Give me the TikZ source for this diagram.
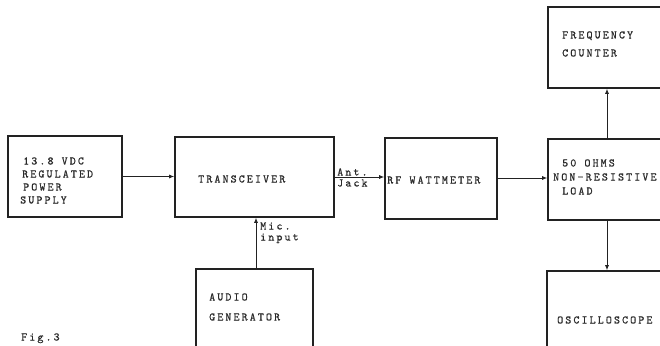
\documentclass[tikz,border=0pt]{standalone}
\usepackage{fontspec}
\usetikzlibrary{arrows.meta}
\definecolor{ink}{HTML}{222222}
\definecolor{txt}{HTML}{2A2A2A}
\newfontfamily\twfam[LetterSpace=18,FakeBold=0.6]{lmmono10-regular.otf}
\newcommand{\twfont}{\twfam\fontsize{11.5}{12}\selectfont}
\tikzset{
  blk/.style={draw=ink, line width=1.6pt, rectangle, inner sep=0pt},
  lbl/.style={anchor=west, inner sep=0pt, text height=7pt, text depth=0pt,
    font=\twfont, text=txt},
  conn/.style={draw=ink, line width=0.8pt, -{Latex[length=5pt,width=4pt]}}
}
\begin{document}
\begin{tikzpicture}[x=1pt,y=-1pt]
\useasboundingbox (0,0) rectangle (660,345);
\clip (0,0) rectangle (660,345);
% boxes
\node[blk, minimum width=114pt, minimum height=81pt] (ps) at (65,176.5) {};
\node[blk, minimum width=159pt, minimum height=80pt] (tr) at (254.5,177) {};
\node[blk, minimum width=112pt, minimum height=81pt] (rf) at (441,178.5) {};
\node[blk, minimum width=132pt, minimum height=81pt] (load) at (614,179.5) {};
\node[blk, minimum width=132pt, minimum height=81pt] (fc) at (614,47.5) {};
\node[blk, minimum width=117pt, minimum height=91pt] (ag) at (254.5,314.5) {};
\node[blk, minimum width=133pt, minimum height=89pt] (osc) at (613.5,315.5) {};
% texts
\node[lbl] (ps1) at (23,161) {13.8 VDC};
\node[lbl] (ps2) at (22,174) {REGULATED};
\node[lbl] (ps3) at (23,187) {POWER};
\node[lbl] (ps4) at (20,200) {SUPPLY};
\node[lbl] (trt) at (198,179) {TRANSCEIVER};
\node[lbl] (rft) at (387,180) {RF WATTMETER};
\node[lbl] (ld1) at (562,163) {50 OHMS};
\node[lbl] (ld2) at (553,177) {NON-RESISTIVE};
\node[lbl] (ld3) at (562,191) {LOAD};
\node[lbl] (fc1) at (562,35) {FREQUENCY};
\node[lbl] (fc2) at (562,53) {COUNTER};
\node[lbl] (ag1) at (209,297) {AUDIO};
\node[lbl] (ag2) at (209,317) {GENERATOR};
\node[lbl] (osct) at (557,320) {OSCILLOSCOPE};
\node[lbl] (ant) at (337,172) {Ant.};
\node[lbl] (jack) at (337,183) {Jack};
\node[lbl] (mic) at (260,226) {Mic.};
\node[lbl] (inp) at (260,237) {input};
\node[lbl] (fig) at (21,337) {Fig.3};
% connectors
\coordinate (lx) at (607,0);
\coordinate (mx) at (256,0);
\draw[conn] (ps.east) -- (ps.east -| tr.west);
\draw[conn] (tr.east) -- (tr.east -| rf.west);
\draw[conn] (rf.east |- 0,178) -- (load.west |- 0,178);
\draw[conn] (load.north -| lx) -- (fc.south -| lx);
\draw[conn] (load.south -| lx) -- (osc.north -| lx);
\draw[conn] (ag.north -| mx) -- (tr.south -| mx);
\end{tikzpicture}
\end{document}
